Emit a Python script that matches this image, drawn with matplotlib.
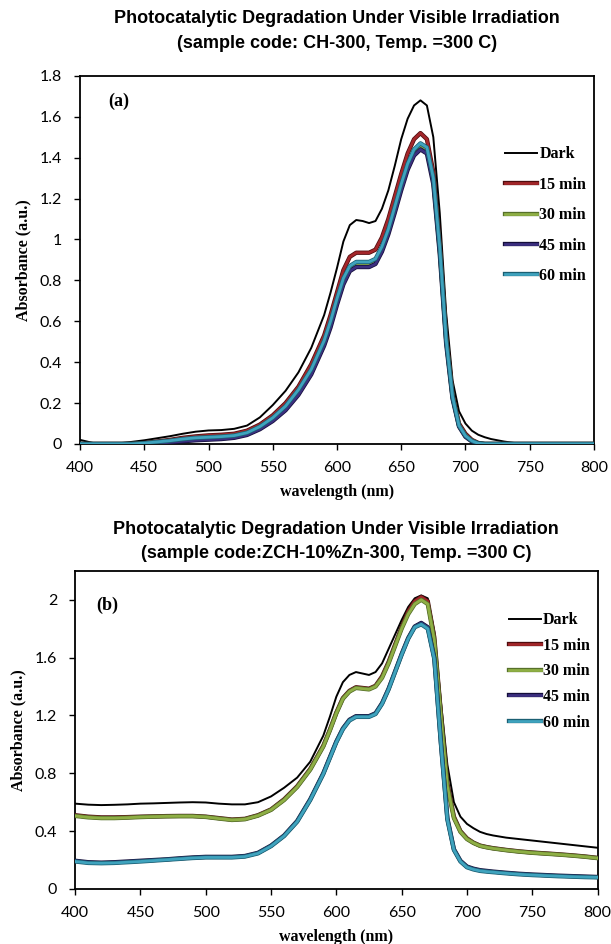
import matplotlib.pyplot as plt
import matplotlib.patheffects as pe

# ---- panel (a): CH-300 ----
wl_a = [400, 410, 420, 430, 440, 450, 460, 470, 480, 490, 500, 510, 520, 530, 540,
        550, 560, 570, 580, 590, 595, 600, 605, 610, 615, 620, 625, 630, 635, 640,
        645, 650, 655, 660, 665, 670, 675, 680, 685, 690, 695, 700, 705, 710, 715,
        720, 730, 740, 750, 760, 770, 780, 790, 800]
dark_a = [0.02, 0.005, 0.0, 0.003, 0.01, 0.018, 0.028, 0.038, 0.05, 0.06, 0.066, 0.068, 0.074, 0.09, 0.13,
          0.19, 0.26, 0.35, 0.47, 0.63, 0.74, 0.86, 0.99, 1.07, 1.095, 1.09, 1.08, 1.09, 1.15, 1.24,
          1.36, 1.49, 1.59, 1.655, 1.68, 1.655, 1.5, 1.13, 0.64, 0.31, 0.16, 0.1, 0.065, 0.045, 0.033,
          0.024, 0.012, 0.003, 0.0, 0.0, 0.0, 0.0, 0.0, 0.0]
m15_a = [0.0, 0.0, 0.0, 0.0, 0.0, 0.005, 0.012, 0.02, 0.03, 0.037, 0.042, 0.045, 0.05, 0.065, 0.095,
         0.14, 0.2, 0.28, 0.39, 0.53, 0.63, 0.74, 0.85, 0.915, 0.935, 0.935, 0.935, 0.95, 1.01, 1.1,
         1.21, 1.32, 1.42, 1.49, 1.52, 1.49, 1.33, 0.98, 0.53, 0.24, 0.1, 0.05, 0.02, 0.005, 0.0,
         0.0, 0.0, 0.0, 0.0, 0.0, 0.0, 0.0, 0.0, 0.0]
m30_a = [0.0, 0.0, 0.0, 0.0, 0.0, 0.003, 0.008, 0.014, 0.022, 0.028, 0.032, 0.035, 0.04, 0.054, 0.083,
         0.125, 0.18, 0.26, 0.36, 0.5, 0.59, 0.7, 0.8, 0.86, 0.88, 0.88, 0.88, 0.895, 0.955, 1.04,
         1.15, 1.26, 1.36, 1.43, 1.46, 1.44, 1.29, 0.95, 0.51, 0.23, 0.09, 0.04, 0.015, 0.003, 0.0,
         0.0, 0.0, 0.0, 0.0, 0.0, 0.0, 0.0, 0.0, 0.0]
m45_a = [0.0, 0.0, 0.0, 0.0, 0.0, 0.0, 0.003, 0.008, 0.013, 0.018, 0.021, 0.024, 0.03, 0.044, 0.072,
         0.112, 0.165, 0.24, 0.34, 0.48, 0.57, 0.68, 0.78, 0.845, 0.865, 0.865, 0.865, 0.88, 0.94, 1.025,
         1.13, 1.24, 1.34, 1.41, 1.44, 1.42, 1.27, 0.93, 0.49, 0.22, 0.085, 0.035, 0.012, 0.002, 0.0,
         0.0, 0.0, 0.0, 0.0, 0.0, 0.0, 0.0, 0.0, 0.0]
m60_a = [0.0, 0.0, 0.0, 0.0, 0.0, 0.004, 0.01, 0.016, 0.024, 0.03, 0.033, 0.036, 0.041, 0.055, 0.085,
         0.128, 0.185, 0.265, 0.365, 0.505, 0.6, 0.71, 0.81, 0.87, 0.89, 0.89, 0.89, 0.905, 0.965, 1.05,
         1.16, 1.27, 1.37, 1.44, 1.47, 1.45, 1.3, 0.96, 0.51, 0.23, 0.09, 0.04, 0.015, 0.003, 0.0,
         0.0, 0.0, 0.0, 0.0, 0.0, 0.0, 0.0, 0.0, 0.0]

# ---- panel (b): ZCH-10%Zn-300 ----
wl_b = [400, 410, 420, 430, 440, 450, 460, 470, 480, 490, 500, 510, 520, 530, 540,
        550, 560, 570, 580, 590, 595, 600, 605, 610, 615, 620, 625, 630, 635, 640,
        645, 650, 655, 660, 665, 670, 675, 680, 685, 690, 695, 700, 705, 710, 715,
        720, 730, 740, 750, 760, 770, 780, 790, 800]
dark_b = [0.59, 0.583, 0.58, 0.582, 0.585, 0.59, 0.592, 0.595, 0.598, 0.6, 0.598, 0.59, 0.585, 0.585, 0.6,
          0.64, 0.7, 0.77, 0.88, 1.06, 1.19, 1.33, 1.43, 1.48, 1.5, 1.49, 1.48, 1.5, 1.56, 1.66,
          1.76, 1.86, 1.95, 2.01, 2.03, 2.01, 1.78, 1.3, 0.86, 0.6, 0.5, 0.45, 0.42, 0.395, 0.38,
          0.37, 0.355, 0.345, 0.335, 0.325, 0.315, 0.305, 0.295, 0.285]
m15_b = [0.51, 0.5, 0.495, 0.495, 0.497, 0.5, 0.502, 0.504, 0.505, 0.505, 0.5, 0.49, 0.48, 0.485, 0.51,
         0.55, 0.62, 0.71, 0.83, 0.99, 1.1, 1.22, 1.32, 1.37, 1.395, 1.39, 1.385, 1.405, 1.47, 1.57,
         1.69, 1.81, 1.92, 1.99, 2.02, 1.99, 1.74, 1.22, 0.73, 0.5, 0.4, 0.35, 0.32, 0.3, 0.29,
         0.282, 0.27, 0.26, 0.252, 0.246, 0.24, 0.233, 0.225, 0.215]
m30_b = [0.505, 0.495, 0.49, 0.49, 0.493, 0.497, 0.5, 0.502, 0.503, 0.503, 0.498, 0.487, 0.477, 0.482, 0.507,
         0.547, 0.615, 0.705, 0.825, 0.985, 1.095, 1.215, 1.315, 1.365, 1.39, 1.385, 1.38, 1.4, 1.46, 1.56,
         1.68, 1.8, 1.9, 1.97, 2.0, 1.97, 1.72, 1.2, 0.71, 0.49, 0.395, 0.345, 0.318, 0.298, 0.288,
         0.28, 0.268, 0.258, 0.25, 0.244, 0.238, 0.231, 0.223, 0.213]
m45_b = [0.195, 0.185, 0.182, 0.185, 0.19, 0.195, 0.2, 0.205, 0.212, 0.218, 0.222, 0.222, 0.222, 0.228, 0.25,
         0.3, 0.37, 0.47, 0.62, 0.8, 0.91, 1.02, 1.11, 1.17, 1.195, 1.195, 1.195, 1.215, 1.285, 1.385,
         1.505, 1.625, 1.735, 1.815, 1.84, 1.81, 1.6, 1.02, 0.49, 0.275, 0.195, 0.155, 0.14, 0.13, 0.125,
         0.12, 0.112, 0.105, 0.1, 0.096, 0.092, 0.089, 0.086, 0.083]
m60_b = [0.19, 0.18, 0.178, 0.18, 0.185, 0.19, 0.196, 0.202, 0.208, 0.214, 0.218, 0.218, 0.218, 0.224, 0.246,
         0.296, 0.366, 0.465, 0.615, 0.795, 0.905, 1.015, 1.105, 1.165, 1.19, 1.19, 1.19, 1.21, 1.28, 1.38,
         1.5, 1.62, 1.73, 1.81, 1.83, 1.8, 1.59, 1.01, 0.48, 0.27, 0.19, 0.15, 0.135, 0.125, 0.12,
         0.116, 0.108, 0.101, 0.096, 0.092, 0.088, 0.085, 0.082, 0.08]

labels = ["Dark", "15 min", "30 min", "45 min", "60 min"]
core_colors = ["black", "#A3262A", "#8FAF45", "#3C2F80", "#3FA3BE"]
edge_colors = [None, "#4E0C0E", "#56702A", "#140E3A", "#1B5F73"]

xticks = [400, 450, 500, 550, 600, 650, 700, 750, 800]
yticks_a = [0, 0.2, 0.4, 0.6, 0.8, 1, 1.2, 1.4, 1.6, 1.8]
ylabels_a = ["0", "0.2", "0.4", "0.6", "0.8", "1", "1.2", "1.4", "1.6", "1.8"]
yticks_b = [0, 0.4, 0.8, 1.2, 1.6, 2]
ylabels_b = ["0", "0.4", "0.8", "1.2", "1.6", "2"]

title_font = ["Liberation Sans", "DejaVu Sans"]
tick_font = ["Lato", "DejaVu Sans"]
serif_font = ["Liberation Serif", "DejaVu Serif"]


def draw_panel(ax, wl, series, ylim, yticks, ylabels, title, title_pad, tag, leg_anchor, leg_spacing):
    for i, ys in enumerate(series):
        if i == 0:
            ax.plot(wl, ys, color=core_colors[i], lw=1.4, label=labels[i], zorder=3)
        else:
            ax.plot(wl, ys, color=core_colors[i], lw=2.0, label=labels[i], zorder=3 + i,
                    path_effects=[pe.Stroke(linewidth=3.1, foreground=edge_colors[i]), pe.Normal()])
    ax.set_xlim(400, 800)
    ax.set_ylim(*ylim)
    ax.set_xticks(xticks)
    ax.set_xticklabels([str(t) for t in xticks], fontfamily=tick_font, fontsize=11.5)
    ax.set_yticks(yticks)
    ax.set_yticklabels(ylabels, fontfamily=tick_font, fontsize=11.5)
    ax.tick_params(axis="x", direction="out", length=4, width=1, pad=8)
    ax.tick_params(axis="y", direction="out", length=4, width=1, pad=9)
    for s in ax.spines.values():
        s.set_linewidth(1.3)
    ax.set_xlabel("wavelength (nm)", fontfamily=serif_font, fontweight="bold", fontsize=11.5, labelpad=7)
    ax.set_ylabel("Absorbance (a.u.)", fontfamily=serif_font, fontweight="bold", fontsize=11.5, labelpad=6)
    ax.set_title(title, fontfamily=title_font, fontweight="bold", fontsize=13,
                 linespacing=1.6, pad=title_pad)
    ax.text(tag[1], tag[2], tag[0], transform=ax.transAxes, fontfamily=serif_font,
            fontweight="bold", fontsize=13, va="center", ha="left")
    ax.legend(loc="upper left", bbox_to_anchor=leg_anchor, frameon=False, borderpad=0,
              borderaxespad=0, handlelength=2.0, handletextpad=0.15,
              labelspacing=leg_spacing, prop={"family": serif_font, "weight": "bold", "size": 11.5})


fig = plt.figure(figsize=(6.11, 9.44), dpi=100)
ax_a = fig.add_axes([0.131, 0.5297, 0.841, 0.390])
ax_b = fig.add_axes([0.123, 0.0583, 0.855, 0.337])

draw_panel(ax_a, wl_a, [dark_a, m15_a, m30_a, m45_a, m60_a], (0, 1.8), yticks_a, ylabels_a,
           "Photocatalytic Degradation Under Visible Irradiation\n(sample code: CH-300, Temp. =300 C)",
           20, ("(a)", 0.055, 0.93), (0.827, 0.808), 0.9)
draw_panel(ax_b, wl_b, [dark_b, m15_b, m30_b, m45_b, m60_b], (0, 2.2), yticks_b, ylabels_b,
           "Photocatalytic Degradation Under Visible Irradiation\n(sample code:ZCH-10%Zn-300, Temp. =300 C)",
           9, ("(b)", 0.04, 0.89), (0.83, 0.87), 0.6)

fig.savefig("out.png", dpi=100)
